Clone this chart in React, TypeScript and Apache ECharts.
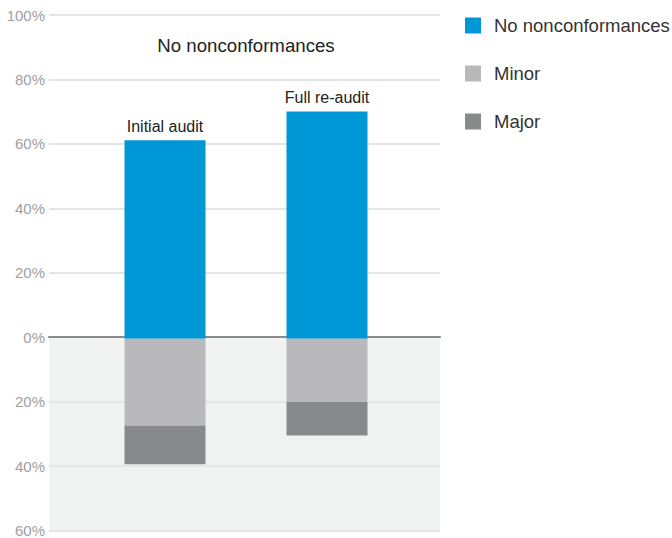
import React, { useEffect, useRef } from "react";
import * as echarts from "echarts";

const categories = ["Initial audit", "Full re-audit"];
const noNonconformances = [61.3, 70.2];
const minor = [-26.8, -19.5];
const major = [-12, -10.4];
const yTicks = { min: -60, max: 100, interval: 20 };
const topHeading = "No nonconformances";
const bottomHeading = "Nonconformances";

const FONT = "'Liberation Sans', Arial, Helvetica, sans-serif";

export default function App() {
  const ref = useRef<HTMLDivElement>(null);
  useEffect(() => {
    if (!ref.current) return;
    const chart = echarts.init(ref.current, null, { renderer: "svg" });
    chart.setOption({
      animation: false,
      backgroundColor: "#ffffff",
      textStyle: { fontFamily: FONT },
      grid: [
        { left: 49, right: 232, top: 15, bottom: 5 },
        { left: 84, right: 264, top: 15, bottom: 5 },
      ],
      legend: {
        orient: "vertical",
        left: 460,
        top: 11,
        icon: "rect",
        itemWidth: 16,
        itemHeight: 16,
        itemGap: 29,
        data: ["No nonconformances", "Minor", "Major"],
        textStyle: {
          fontFamily: FONT,
          fontSize: 18.5,
          color: "#333333",
          padding: [0, 0, 0, 8],
        },
      },
      xAxis: [
        {
          type: "value",
          gridIndex: 0,
          min: 0,
          max: 1,
          axisLine: { show: true, onZero: true, lineStyle: { color: "#8a8a8a", width: 2 } },
          axisTick: { show: false },
          axisLabel: { show: false },
          splitLine: { show: false },
        },
        {
          type: "category",
          gridIndex: 1,
          data: categories,
          show: false,
        },
      ],
      yAxis: [
        {
          type: "value",
          gridIndex: 0,
          min: yTicks.min,
          max: yTicks.max,
          interval: yTicks.interval,
          axisLine: { show: false },
          axisTick: { show: false },
          axisLabel: {
            color: "#a0a0a0",
            fontSize: 15,
            fontFamily: FONT,
            margin: 4,
            formatter: (v: number) => Math.abs(v) + "%",
          },
          splitLine: { show: true, lineStyle: { color: "#e4e6e6", width: 2 } },
          splitArea: {
            show: true,
            areaStyle: {
              color: [
                "#f1f2f2",
                "#f1f2f2",
                "#f1f2f2",
                "rgba(255,255,255,0)",
                "rgba(255,255,255,0)",
                "rgba(255,255,255,0)",
                "rgba(255,255,255,0)",
                "rgba(255,255,255,0)",
              ],
            },
          },
        },
        {
          type: "value",
          gridIndex: 1,
          min: yTicks.min,
          max: yTicks.max,
          interval: yTicks.interval,
          show: false,
          splitLine: { show: false },
        },
      ],
      graphic: [
        {
          type: "text",
          x: 246,
          y: 45,
          style: {
            text: topHeading,
            fontSize: 18.67,
            fontFamily: FONT,
            fill: "#222222",
            align: "center",
            verticalAlign: "middle",
          },
        },
        {
          type: "text",
          x: 246,
          y: 499,
          style: {
            text: bottomHeading,
            fontSize: 18.67,
            fontFamily: FONT,
            fill: "#222222",
            align: "center",
            verticalAlign: "middle",
          },
        },
      ],
      series: [
        {
          name: "No nonconformances",
          type: "bar",
          xAxisIndex: 1,
          yAxisIndex: 1,
          stack: "audit",
          barWidth: 81,
          data: noNonconformances,
          itemStyle: { color: "#0097d6" },
          label: {
            show: true,
            position: "top",
            distance: 6,
            formatter: "{b}",
            fontSize: 16,
            fontFamily: FONT,
            color: "#222222",
          },
        },
        {
          name: "Minor",
          type: "bar",
          xAxisIndex: 1,
          yAxisIndex: 1,
          stack: "audit",
          barWidth: 81,
          data: minor,
          itemStyle: { color: "#b9b9bb" },
        },
        {
          name: "Major",
          type: "bar",
          xAxisIndex: 1,
          yAxisIndex: 1,
          stack: "audit",
          barWidth: 81,
          data: major,
          itemStyle: { color: "#88898b" },
        },
      ],
    });
    return () => chart.dispose();
  }, []);
  return (
    <div
      ref={ref}
      style={{ position: "absolute", left: 0, top: 0, width: 672, height: 538 }}
    />
  );
}
